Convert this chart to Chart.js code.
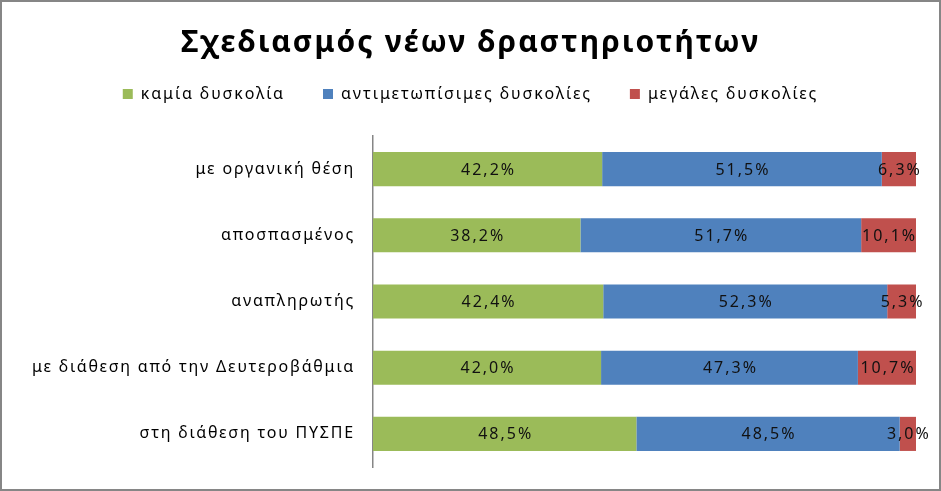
<!DOCTYPE html>
<html>
<head>
<meta charset="utf-8">
<script src="https://cdn.jsdelivr.net/npm/chart.js@4/dist/chart.umd.min.js"></script>
<style>
html,body{margin:0;padding:0;background:#fff;}
#wrap{position:relative;width:941px;height:491px;}
</style>
</head>
<body>
<div id="wrap"><canvas id="c" width="941" height="491"></canvas></div>
<script>
const categories = ["με οργανική θέση","αποσπασμένος","αναπληρωτής","με διάθεση από την Δευτεροβάθμια","στη διάθεση του ΠΥΣΠΕ"];
const seriesNames = ["καμία δυσκολία","αντιμετωπίσιμες δυσκολίες","μεγάλες δυσκολίες"];
const noDifficulty = [42.2, 38.2, 42.4, 42.0, 48.5];
const manageable = [51.5, 51.7, 52.3, 47.3, 48.5];
const major = [6.3, 10.1, 5.3, 10.7, 3.0];
const colors = ["#9BBB59","#4F81BD","#C0504D"];
const titleText = "Σχεδιασμός νέων δραστηριοτήτων";
const FONT = "'Noto Sans', 'DejaVu Sans', sans-serif";

function wrapLS(obj, method, ls) {
  if (!obj || obj['_ls_' + method]) return;
  const orig = obj[method];
  obj[method] = function(...args) {
    const ctx = this.ctx;
    const prev = ctx.letterSpacing;
    ctx.letterSpacing = ls;
    try { return orig.apply(this, args); } finally { ctx.letterSpacing = prev; }
  };
  obj['_ls_' + method] = true;
}

const spacingPlugin = {
  id: 'spacing',
  beforeLayout(chart) {
    wrapLS(chart.titleBlock, 'draw', '2.1px');
    wrapLS(chart.legend, 'fit', '1.9px');
    wrapLS(chart.legend, 'draw', '1.9px');
    wrapLS(chart.scales.y, 'draw', '1.8px');
  }
};

const labelPlugin = {
  id: 'segLabels',
  afterDatasetsDraw(chart) {
    const ctx = chart.ctx;
    ctx.save();
    ctx.font = "16px " + FONT;
    ctx.letterSpacing = '2px';
    ctx.fillStyle = "#111";
    ctx.textAlign = "center";
    ctx.textBaseline = "middle";
    chart.data.datasets.forEach((ds, i) => {
      const meta = chart.getDatasetMeta(i);
      meta.data.forEach((el, j) => {
        const v = ds.data[j];
        const x = (el.x + el.base) / 2 + 1;
        ctx.fillText(v.toFixed(1).replace('.', ',') + '%', x, el.y + 1);
      });
    });
    ctx.restore();
  }
};
const borderPlugin = {
  id: 'outerBorder',
  afterDraw(chart) {
    const ctx = chart.ctx;
    ctx.save();
    ctx.strokeStyle = "#868686";
    ctx.lineWidth = 2;
    ctx.strokeRect(1, 1, chart.width - 2, chart.height - 2);
    ctx.restore();
  }
};

const chart = new Chart(document.getElementById('c'), {
  type: 'bar',
  data: {
    labels: categories,
    datasets: [
      {label: seriesNames[0], data: noDifficulty, backgroundColor: colors[0]},
      {label: seriesNames[1], data: manageable, backgroundColor: colors[1]},
      {label: seriesNames[2], data: major, backgroundColor: colors[2]}
    ]
  },
  options: {
    indexAxis: 'y',
    responsive: false,
    animation: false,
    events: [],
    datasets: {bar: {barPercentage: 0.515, categoryPercentage: 1.0, borderWidth: 0}},
    layout: {padding: {left: 25, right: 25, top: 0, bottom: 24}},
    scales: {
      x: {
        stacked: true, min: 0, max: 100, position: 'top',
        grid: {display: false}, border: {display: false},
        ticks: {display: false},
        afterFit(s) { s.height = 24; }
      },
      y: {
        stacked: true,
        grid: {display: false},
        border: {display: true, color: '#868686', width: 1.5},
        ticks: {color: '#000', padding: 10, font: {size: 16, family: FONT}},
        afterFit(s) { s.width = 348; }
      }
    },
    plugins: {
      title: {display: true, text: titleText, color: '#000', font: {size: 30, weight: 'bold', family: FONT}, padding: {top: 25, bottom: -13}},
      legend: {
        position: 'top',
        labels: {boxWidth: 10, boxHeight: 10, color: '#000', padding: 38, font: {size: 16, family: FONT}}
      },
      tooltip: {enabled: false}
    }
  },
  plugins: [spacingPlugin, labelPlugin, borderPlugin]
});
chart.update();
</script>
</body>
</html>
